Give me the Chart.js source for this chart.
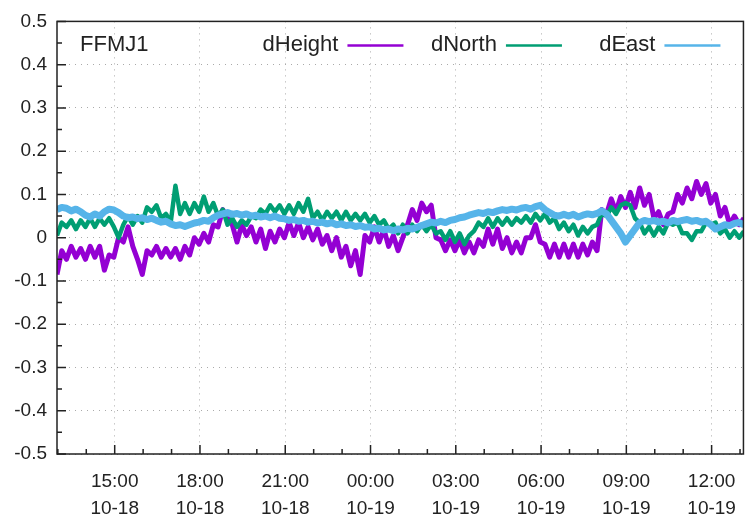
<!DOCTYPE html>
<html>
<head>
<meta charset="utf-8">
<script src="https://cdn.jsdelivr.net/npm/chart.js@4"></script>
<style>
  html, body { margin: 0; padding: 0; background: #fff; }
  #wrap { width: 750px; height: 522px; }
</style>
</head>
<body>
<div id="wrap"><canvas id="gpsChart"></canvas></div>
<script>
// station and time base (hours since 10-18 00:00, one sample every 10 minutes)
const station = "FFMJ1";
const startHour = 12.97;
const endHour = 37.12;
const stepHour = 1 / 6;

const tickHours = [15, 18, 21, 24, 27, 30, 33, 36];
const yTicks = [-0.5, -0.4, -0.3, -0.2, -0.1, 0, 0.1, 0.2, 0.3, 0.4, 0.5];

const seriesNames = ["dHeight", "dNorth", "dEast"];
const seriesColors = ["#9400d3", "#009e73", "#56b4e9"];

const dHeight = [
  -0.085, -0.03, -0.05, -0.02, -0.045, -0.025,
  -0.05, -0.02, -0.045, -0.02, -0.075, -0.04,
  -0.045, 0.0, -0.01, 0.025, -0.02, -0.05,
  -0.085, -0.03, -0.04, -0.02, -0.045, -0.025,
  -0.045, -0.025, -0.05, -0.02, -0.04, 0.0,
  -0.015, 0.01, -0.01, 0.03, 0.025, 0.065,
  0.045, 0.03, -0.01, 0.03, 0.005, 0.025,
  -0.01, 0.02, -0.025, 0.015, -0.01, 0.02,
  0.0, 0.035, 0.005, 0.035, 0.0, 0.025,
  -0.005, 0.02, -0.015, 0.005, -0.03, 0.0,
  -0.045, -0.02, -0.065, -0.03, -0.085, 0.005,
  -0.01, 0.025, -0.01, 0.02, -0.02, 0.005,
  -0.03, 0.0, 0.03, 0.065, 0.04, 0.08,
  0.06, 0.075, 0.0, -0.005, -0.03, -0.005,
  -0.03, -0.005, -0.035, -0.01, -0.035, -0.005,
  -0.02, 0.02, -0.015, 0.02, -0.025, 0.0,
  -0.035, -0.01, -0.035, 0.0, 0.0, 0.03,
  -0.01, -0.015, -0.045, -0.015, -0.045, -0.015,
  -0.045, -0.015, -0.045, -0.015, -0.04, -0.01,
  -0.03, 0.065, 0.055, 0.09, 0.06, 0.095,
  0.07, 0.105, 0.07, 0.115, 0.075, 0.1,
  0.045, 0.06, 0.03, 0.055, 0.06, 0.1,
  0.08, 0.115, 0.09, 0.13, 0.1, 0.125,
  0.08, 0.1, 0.05, 0.07, 0.03, 0.05,
  0.03, 0.045
];

const dNorth = [
  0.005, 0.035, 0.025, 0.04, 0.02, 0.04,
  0.025, 0.045, 0.025, 0.045, 0.03, 0.045,
  0.025, 0.0, 0.03, 0.05, 0.03, 0.05,
  0.035, 0.07, 0.06, 0.075, 0.045, 0.055,
  0.035, 0.12, 0.055, 0.08, 0.055, 0.08,
  0.06, 0.095, 0.06, 0.08, 0.05, 0.065,
  0.03, 0.045, 0.025, 0.04, 0.03, 0.05,
  0.045, 0.065, 0.055, 0.075, 0.06, 0.075,
  0.055, 0.075, 0.055, 0.08, 0.06, 0.09,
  0.045, 0.06, 0.04, 0.06, 0.045, 0.06,
  0.04, 0.06, 0.04, 0.055, 0.04, 0.055,
  0.035, 0.05, 0.03, 0.04, 0.02, 0.03,
  0.01, 0.03, 0.01, 0.03, 0.015, 0.03,
  0.015, 0.03, 0.01, 0.015, -0.005, 0.015,
  -0.01, 0.01, -0.015, 0.005, 0.015, 0.035,
  0.025, 0.045, 0.025, 0.045, 0.03, 0.045,
  0.03, 0.045, 0.035, 0.05, 0.035, 0.055,
  0.04, 0.055, 0.035, 0.045, 0.02, 0.035,
  0.015, 0.03, 0.005, 0.025, 0.01, 0.025,
  0.03, 0.055, 0.05, 0.07, 0.055, 0.075,
  0.08, 0.075, 0.045, 0.035, 0.01, 0.025,
  0.005, 0.025, 0.01, 0.035, 0.03, 0.035,
  0.01, 0.01, -0.005, 0.015, 0.015, 0.035,
  0.03, 0.035, 0.01, 0.02, 0.0, 0.015,
  0.0, 0.015
];

const dEast = [
  0.065, 0.07, 0.068, 0.062, 0.066, 0.06,
  0.052, 0.048, 0.055, 0.05, 0.06, 0.066,
  0.064, 0.058, 0.05, 0.046, 0.048, 0.044,
  0.046, 0.042, 0.045, 0.04, 0.036, 0.038,
  0.032, 0.028, 0.03, 0.026, 0.03, 0.034,
  0.036, 0.04, 0.038, 0.046, 0.052, 0.055,
  0.058, 0.054, 0.056, 0.052, 0.055, 0.05,
  0.052, 0.048, 0.05, 0.046, 0.05, 0.045,
  0.044, 0.04, 0.042, 0.038, 0.04, 0.036,
  0.038, 0.034, 0.036, 0.032, 0.035, 0.03,
  0.032, 0.028, 0.03, 0.026, 0.028, 0.024,
  0.025, 0.02, 0.022, 0.018, 0.02, 0.016,
  0.02, 0.018, 0.022, 0.02, 0.024, 0.028,
  0.032, 0.036, 0.034, 0.038, 0.035, 0.04,
  0.042, 0.046, 0.048, 0.052, 0.055, 0.058,
  0.056, 0.06, 0.058, 0.062, 0.065, 0.063,
  0.066, 0.064, 0.068, 0.07, 0.066, 0.072,
  0.075, 0.065, 0.058, 0.052, 0.05, 0.054,
  0.05, 0.054, 0.048, 0.052, 0.055, 0.053,
  0.056, 0.062, 0.055, 0.04, 0.025, 0.01,
  -0.01, 0.005, 0.02, 0.035, 0.04, 0.037,
  0.04, 0.036, 0.038, 0.034, 0.04, 0.037,
  0.04, 0.042, 0.038, 0.04, 0.036, 0.038,
  0.03, 0.02, 0.025, 0.03, 0.028, 0.033,
  0.035, 0.03
];

function toPoints(values) {
  return values.map((v, i) => ({ x: startHour + i * stepHour, y: v }));
}

function hourLabel(h) {
  const day = 18 + Math.floor(h / 24);
  const hh = String(Math.round(h % 24)).padStart(2, "0");
  return [hh + ":00", "10-" + day];
}

const fontFamily = "'Liberation Sans', Arial, sans-serif";
const textColor = "#222";

// gnuplot-like frame, inward ticks, station label and key
const decor = {
  id: "decor",
  afterDatasetsDraw(chart) {
    const { ctx, chartArea: a, scales } = chart;
    const xs = scales.x, ys = scales.y;
    ctx.save();
    ctx.strokeStyle = "#222";
    ctx.lineWidth = 1.5;
    ctx.strokeRect(a.left, a.top, a.right - a.left, a.bottom - a.top);

    ctx.beginPath();
    for (let h = Math.ceil(xs.min); h <= xs.max; h++) {
      const px = xs.getPixelForValue(h);
      const len = tickHours.includes(h) ? 9 : 5;
      ctx.moveTo(px, a.bottom);
      ctx.lineTo(px, a.bottom - len);
    }
    for (let k = -10; k <= 10; k++) {
      const py = ys.getPixelForValue(k * 0.05);
      const len = k % 2 === 0 ? 9 : 5;
      ctx.moveTo(a.left, py);
      ctx.lineTo(a.left + len, py);
    }
    ctx.stroke();

    ctx.fillStyle = textColor;
    ctx.font = "22px " + fontFamily;
    ctx.textBaseline = "middle";
    ctx.textAlign = "left";
    ctx.fillText(station, a.left + 23, a.top + 24);

    const ly = a.top + 24;
    const n = chart.data.datasets.length;
    chart.data.datasets.forEach((ds, i) => {
      const end = a.right - 23 - (n - 1 - i) * 158.5;
      const start = end - 56;
      ctx.textAlign = "right";
      ctx.fillStyle = textColor;
      ctx.fillText(ds.label, start - 9, ly);
      ctx.beginPath();
      ctx.strokeStyle = ds.borderColor;
      ctx.lineWidth = 2.5;
      ctx.moveTo(start, ly);
      ctx.lineTo(end, ly);
      ctx.stroke();
    });
    ctx.restore();
  }
};

const ctx = document.getElementById("gpsChart").getContext("2d");
const chart = new Chart(ctx, {
  type: "line",
  data: {
    datasets: [
      { label: seriesNames[0], data: toPoints(dHeight), borderColor: seriesColors[0], borderWidth: 5, order: 3 },
      { label: seriesNames[1], data: toPoints(dNorth), borderColor: seriesColors[1], borderWidth: 4.5, order: 2 },
      { label: seriesNames[2], data: toPoints(dEast), borderColor: seriesColors[2], borderWidth: 7, order: 1 }
    ]
  },
  options: {
    responsive: true,
    maintainAspectRatio: false,
    animation: false,
    layout: { padding: { top: 17, right: 2, left: 0, bottom: 0 } },
    elements: { point: { radius: 0 }, line: { tension: 0, borderJoinStyle: "round" } },
    plugins: { legend: { display: false }, tooltip: { enabled: false } },
    scales: {
      x: {
        type: "linear",
        min: startHour,
        max: endHour,
        afterBuildTicks: s => { s.ticks = tickHours.map(v => ({ value: v })); },
        afterFit: s => { s.height = 68; },
        grid: { color: "#aaa", lineWidth: 1, drawTicks: false },
        border: { display: false, dash: [1, 5] },
        ticks: {
          padding: 14,
          maxRotation: 0,
          autoSkip: false,
          color: textColor,
          font: { family: fontFamily, size: 19, lineHeight: 1.42 },
          callback: v => hourLabel(v)
        }
      },
      y: {
        min: -0.5,
        max: 0.5,
        afterBuildTicks: s => { s.ticks = yTicks.map(v => ({ value: v })); },
        afterFit: s => { s.width = 57; },
        grid: { color: "#aaa", lineWidth: 1, drawTicks: false },
        border: { display: false, dash: [1, 5] },
        ticks: {
          padding: 10,
          color: textColor,
          font: { family: fontFamily, size: 19 },
          callback: v => String(parseFloat(Number(v).toFixed(1)))
        }
      }
    }
  },
  plugins: [decor]
});
</script>
</body>
</html>
